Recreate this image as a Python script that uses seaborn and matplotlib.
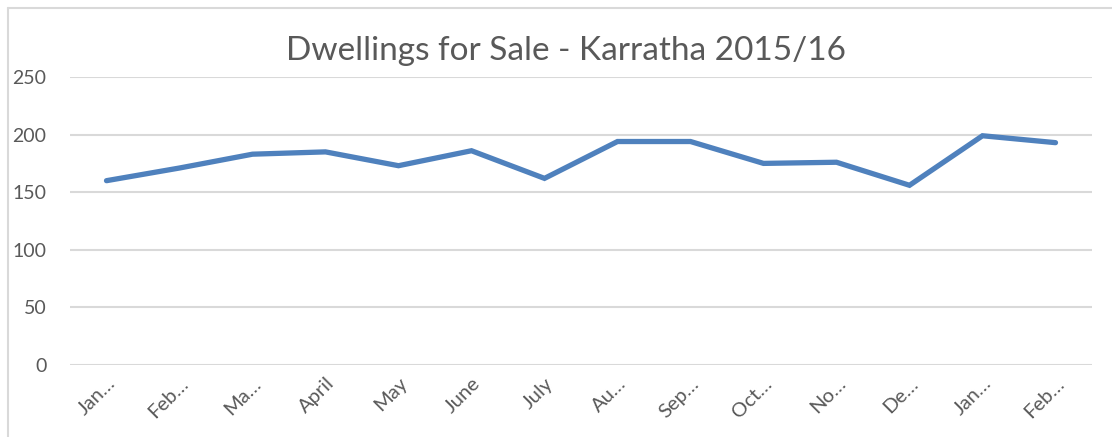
import numpy as np
import pandas as pd
import matplotlib.pyplot as plt
import seaborn as sns
from matplotlib.lines import Line2D

# data
months = ["Jan 2015", "Feb 2015", "Mar 2015", "April", "May", "June", "July",
          "Aug 2015", "Sep 2015", "Oct 2015", "Nov 2015", "Dec 2015", "Jan 2016", "Feb 2016"]
tick_labels = ["Jan…", "Feb…", "Ma…", "April", "May", "June", "July",
               "Au…", "Sep…", "Oct…", "No…", "De…", "Jan…", "Feb…"]
dwellings = [160, 171, 183, 185, 173, 186, 162, 194, 194, 175, 176, 156, 199, 193]
y_ticks = [0, 50, 100, 150, 200, 250]

df = pd.DataFrame({"pos": np.arange(len(months)), "month": months, "dwellings": dwellings})

sns.set_theme(style="white")
plt.rcParams["font.family"] = ["Lato", "DejaVu Sans"]

fig = plt.figure(figsize=(11.12, 4.37), dpi=100)
ax = fig.add_axes([70 / 1112, 1 - 365 / 437, (1092 - 70) / 1112, (365 - 77) / 437])

sns.lineplot(data=df, x="pos", y="dwellings", ax=ax, color="#4F81BD",
             linewidth=3.8, solid_capstyle="round", solid_joinstyle="miter", sort=False)

ax.set_xlim(-0.5, len(months) - 0.5)
ax.set_ylim(0, 250)
ax.set_yticks(y_ticks)
ax.set_yticklabels([str(v) for v in y_ticks], fontsize=14, color="#595959")
ax.set_xticks(df["pos"])
ax.set_xticklabels(tick_labels, fontsize=14.5, color="#595959", rotation=45,
                   ha="right", rotation_mode="anchor")
ax.tick_params(axis="y", length=0, pad=17)
ax.tick_params(axis="x", length=0, pad=7)
for lbl in ax.get_xticklabels():
    lbl.set_x(lbl.get_position()[0])
ax.yaxis.grid(True, color="#D9D9D9", linewidth=1.5)
ax.set_axisbelow(True)
for s in ax.spines.values():
    s.set_visible(False)
ax.set_xlabel("")
ax.set_ylabel("")

fig.text(566 / 1112, 1 - 51 / 437, "Dwellings for Sale - Karratha 2015/16",
         ha="center", va="center", fontsize=24, color="#595959")

# chart area frame (left and top edges)
fig.add_artist(Line2D([8 / 1112, 8 / 1112], [0, 1 - 8 / 437], transform=fig.transFigure,
                      color="#D9D9D9", linewidth=1.5))
fig.add_artist(Line2D([8 / 1112, 1], [1 - 8 / 437, 1 - 8 / 437], transform=fig.transFigure,
                      color="#D9D9D9", linewidth=1.5))

fig.savefig("out.png", dpi=100)
